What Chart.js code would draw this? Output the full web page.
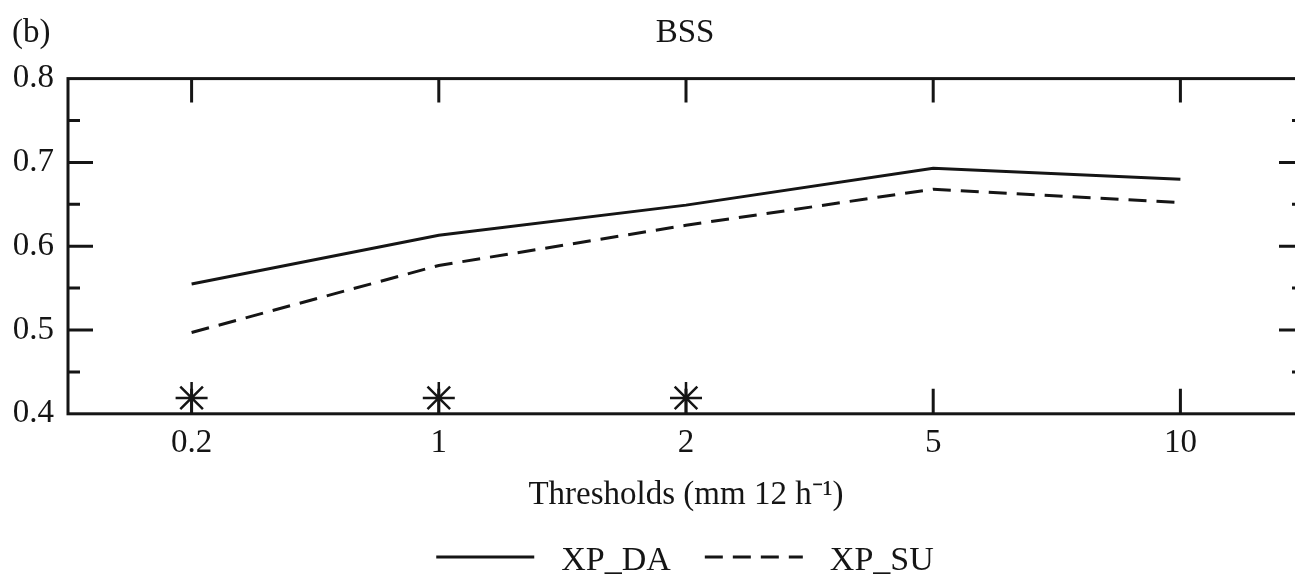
<!DOCTYPE html>
<html>
<head>
<meta charset="utf-8">
<script src="https://cdn.jsdelivr.net/npm/chart.js@4"></script>
<style>
  html, body { margin: 0; padding: 0; background: #fff; overflow: hidden; }
  #wrap { width: 1370px; height: 575px; }
</style>
</head>
<body>
<div id="wrap"><canvas id="c" width="1370" height="575"></canvas></div>
<script>
// Precipitation thresholds (mm per 12 h) on the category axis
const thresholds = ['0.2', '1', '2', '5', '10'];
// Brier skill score of the two experiments
const bssDA = [0.555, 0.613, 0.649, 0.693, 0.680];
const bssSU = [0.497, 0.577, 0.625, 0.668, 0.652];
// Asterisks marking thresholds where the difference is significant
const significant = [0.419, 0.419, 0.419, null, null];
// Labelled values on the y axis
const yTicks = [0.4, 0.5, 0.6, 0.7, 0.8];

const FONT = "'Liberation Serif', 'Times New Roman', serif";
const INK = '#151515';

// Closed frame with inward-pointing ticks on all four sides
const framePlugin = {
  id: 'frame',
  afterDatasetsDraw(chart) {
    const { ctx, chartArea: a, scales: { x, y } } = chart;
    ctx.save();
    ctx.strokeStyle = INK;
    ctx.lineWidth = 3;
    ctx.lineCap = 'butt';
    ctx.strokeRect(a.left, a.top, a.right - a.left, a.bottom - a.top);
    ctx.beginPath();
    const lo = yTicks[0], hi = yTicks[yTicks.length - 1];
    const steps = Math.round((hi - lo) / 0.05);
    for (let i = 1; i < steps; i++) {
      const py = y.getPixelForValue(lo + i * 0.05);
      const len = i % 2 === 0 ? 25 : 12;
      ctx.moveTo(a.left, py); ctx.lineTo(a.left + len, py);
      ctx.moveTo(a.right, py); ctx.lineTo(a.right - len, py);
    }
    thresholds.forEach((_, i) => {
      const px = x.getPixelForValue(i);
      ctx.moveTo(px, a.top); ctx.lineTo(px, a.top + 24);
      ctx.moveTo(px, a.bottom); ctx.lineTo(px, a.bottom - 25);
    });
    ctx.stroke();
    ctx.restore();
  }
};

// Panel letter and the line-sample legend under the axis title
const annotatePlugin = {
  id: 'annotate',
  afterDraw(chart) {
    const { ctx } = chart;
    ctx.save();
    ctx.fillStyle = INK;
    ctx.font = `33px ${FONT}`;
    ctx.textAlign = 'left';
    ctx.textBaseline = 'middle';
    ctx.fillText('(b)', 12, 33);

    const items = chart.data.datasets.filter(d => d.label);
    const lineLen = 98, textGap = 27, itemGap = 34;
    ctx.font = `34px ${FONT}`;
    const widths = items.map(d => ctx.measureText(d.label).width);
    const total = widths.reduce((s, w) => s + lineLen + textGap + w, 0) + itemGap * (items.length - 1);
    let cx = chart.width / 2 - total / 2;
    const lineY = 557, textY = 561;
    items.forEach((d, i) => {
      ctx.beginPath();
      ctx.strokeStyle = d.borderColor;
      ctx.lineWidth = d.borderWidth;
      ctx.setLineDash(d.borderDash || []);
      ctx.moveTo(cx, lineY);
      ctx.lineTo(cx + lineLen, lineY);
      ctx.stroke();
      ctx.setLineDash([]);
      cx += lineLen + textGap;
      ctx.fillText(d.label, cx, textY);
      cx += widths[i] + itemGap;
    });
    ctx.restore();
  }
};

new Chart(document.getElementById('c'), {
  type: 'line',
  data: {
    labels: thresholds,
    datasets: [
      {
        label: 'XP_DA',
        data: bssDA,
        borderColor: INK,
        borderWidth: 3,
        pointRadius: 0,
        tension: 0
      },
      {
        label: 'XP_SU',
        data: bssSU,
        borderColor: INK,
        borderWidth: 3,
        borderDash: [18, 10],
        pointRadius: 0,
        tension: 0
      },
      {
        label: '',
        data: significant,
        showLine: false,
        pointStyle: 'star',
        pointRadius: 16,
        pointBorderWidth: 2.5,
        pointBorderColor: INK,
        pointBackgroundColor: INK,
        clip: false
      }
    ]
  },
  options: {
    responsive: false,
    devicePixelRatio: 1,
    animation: false,
    events: [],
    layout: { padding: { top: 0, right: 0, bottom: 56, left: 0 } },
    plugins: {
      legend: { display: false },
      tooltip: { enabled: false },
      title: {
        display: true,
        text: 'BSS',
        color: INK,
        font: { family: FONT, size: 33, weight: 'normal' },
        padding: { top: 14, bottom: 25 }
      }
    },
    scales: {
      x: {
        type: 'category',
        offset: true,
        grid: { display: false, drawTicks: false },
        border: { display: false },
        ticks: {
          color: INK,
          padding: 10,
          maxRotation: 0,
          font: { family: FONT, size: 33 }
        },
        title: {
          display: true,
          text: 'Thresholds (mm 12 h\u207B\u00B9)',
          color: INK,
          font: { family: FONT, size: 33 },
          padding: { top: 2, bottom: 4 }
        }
      },
      y: {
        min: 0.4,
        max: 0.8,
        grid: { display: false, drawTicks: false },
        border: { display: false },
        afterBuildTicks(scale) {
          scale.ticks = yTicks.map(v => ({ value: v }));
        },
        afterFit(scale) { scale.width = 68; },
        ticks: {
          color: INK,
          padding: 14,
          font: { family: FONT, size: 33 },
          callback: v => Number(v).toFixed(1)
        }
      },
      // unlabelled right-hand axis that keeps the frame's right edge in place
      yRight: {
        position: 'right',
        min: 0.4,
        max: 0.8,
        grid: { display: false, drawTicks: false },
        border: { display: false },
        ticks: { display: false },
        afterFit(scale) { scale.width = 66; }
      }
    }
  },
  plugins: [framePlugin, annotatePlugin]
});
</script>
</body>
</html>
